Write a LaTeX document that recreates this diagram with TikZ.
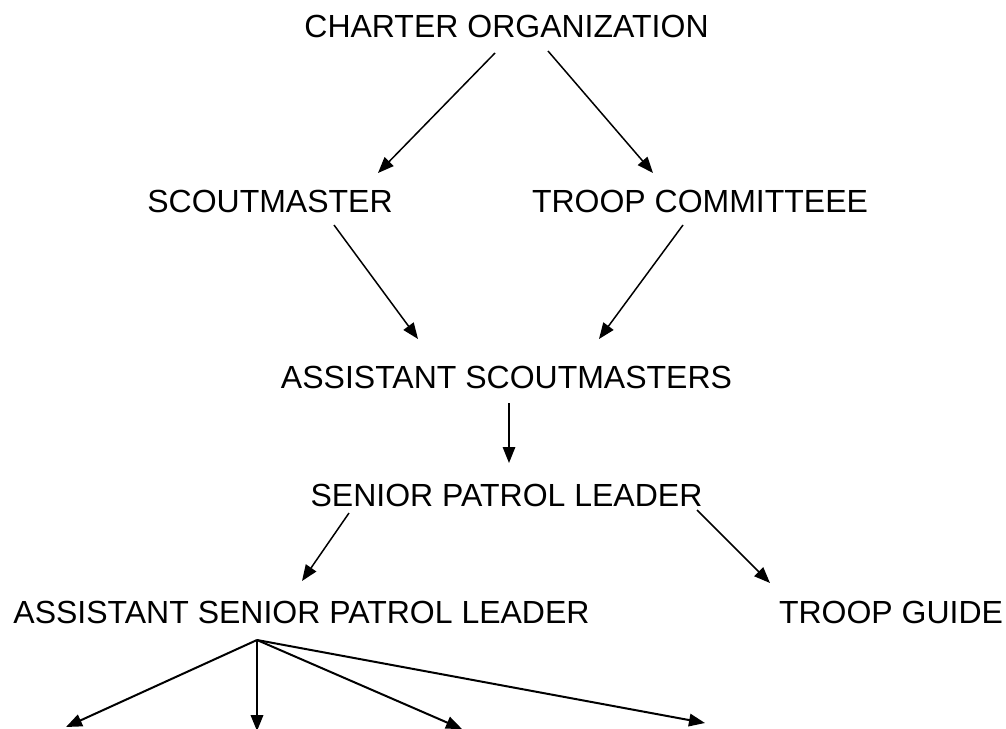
\documentclass[tikz,border=0pt]{standalone}
\usepackage{fontspec}
\setmainfont{Liberation Sans}
\usetikzlibrary{arrows.meta}
\begin{document}
\begin{tikzpicture}[x=1pt,y=-1pt,
  lbl/.style={inner sep=0pt,anchor=base,font=\fontsize{32}{38}\selectfont},
  conn/.style={line width=1.5pt,-{Triangle[length=16pt,width=12.5pt]}},
  fan/.style={conn,line width=2pt}]
\useasboundingbox (0,0) rectangle (1006,728);
\clip (0,0) rectangle (1006,728);
\node[lbl] (co) at (506.5,37) {CHARTER ORGANIZATION};
\node[lbl] (sm) at (270,212) {SCOUTMASTER};
\node[lbl] (tc) at (700,212) {TROOP COMMITTEEE};
\node[lbl] (as) at (506.5,388) {ASSISTANT SCOUTMASTERS};
\node[lbl] (spl) at (506.5,506) {SENIOR PATROL LEADER};
\node[lbl] (aspl) at (301.5,623) {ASSISTANT SENIOR PATROL LEADER};
\node[lbl] (tg) at (891,623) {TROOP GUIDE};
% connector end points
\coordinate (co1) at (495,53);
\coordinate (co2) at (548,51);
\coordinate (sm1) at (378,173);
\coordinate (tc1) at (653,173);
\coordinate (sm2) at (334,225);
\coordinate (tc2) at (683,225);
\coordinate (as1) at (418,339);
\coordinate (as2) at (599,339);
\coordinate (as3) at (509,403);
\coordinate (spl1) at (509,463);
\coordinate (spl2) at (349,513);
\coordinate (spl3) at (697,510);
\coordinate (aspl1) at (302,581);
\coordinate (tg1) at (770,583);
\coordinate (aspl2) at (257,640);
\coordinate (b1) at (66,727);
\coordinate (b2) at (257,731);
\coordinate (b3) at (462,729);
\coordinate (b4) at (705,723);
\draw[conn] (co1) -- (sm1);
\draw[conn] (co2) -- (tc1);
\draw[conn] (sm2) -- (as1);
\draw[conn] (tc2) -- (as2);
\draw[conn] (as3) -- (spl1);
\draw[conn] (spl2) -- (aspl1);
\draw[conn] (spl3) -- (tg1);
\draw[fan] (aspl2) -- (b1);
\draw[fan] (aspl2) -- (b2);
\draw[fan] (aspl2) -- (b3);
\draw[fan] (aspl2) -- (b4);
\end{tikzpicture}
\end{document}
